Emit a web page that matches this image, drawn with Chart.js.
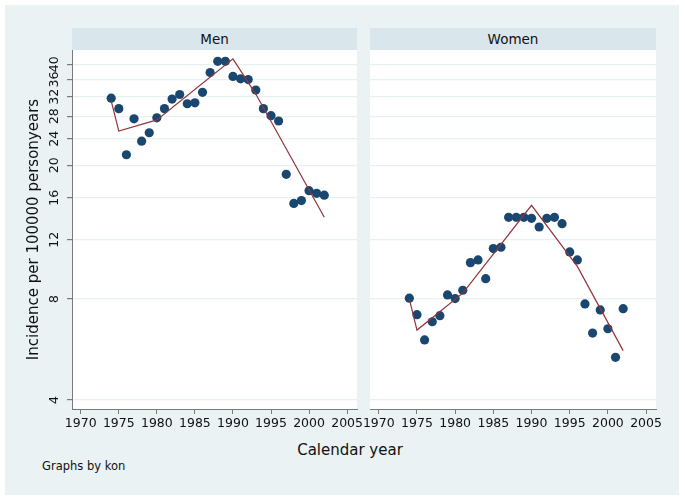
<!DOCTYPE html>
<html>
<head>
<meta charset="utf-8">
<script src="https://cdn.jsdelivr.net/npm/chart.js@4.4.1/dist/chart.umd.min.js"></script>
<style>
  body { margin: 0; background: #fff; }
  #wrap { position: relative; width: 685px; height: 500px; background: #fff; font-family: "DejaVu Sans", sans-serif; }
  #bg { position: absolute; left: 5px; top: 5px; width: 674px; height: 490px; background: #EAF2F3; }
  .strip { position: absolute; top: 28px; height: 22px; line-height: 22px; background: #D9E6EB; text-align: center; font-size: 13.5px; color: #111; }
  canvas { position: absolute; top: 0; }
  #xtitle { position: absolute; left: 0; width: 700px; top: 441px; line-height: 18px; text-align: center; font-size: 15px; color: #111; }
  #note { position: absolute; left: 42px; top: 459px; font-size: 11.5px; color: #111; }
</style>
</head>
<body>
<div id="wrap">
  <div id="bg"></div>
  <div class="strip" style="left:72px;width:285px">Men</div>
  <div class="strip" style="left:370px;width:286px">Women</div>
  <canvas id="men" width="370" height="440" style="left:0"></canvas>
  <canvas id="women" width="330" height="440" style="left:355px"></canvas>
  <div id="xtitle">Calendar year</div>
  <div id="note">Graphs by kon</div>
</div>
<script>
var years = [1974, 1975, 1976, 1977, 1978, 1979, 1980, 1981, 1982, 1983, 1984, 1985, 1986, 1987, 1988,
  1989, 1990, 1991, 1992, 1993, 1994, 1995, 1996, 1997, 1998, 1999, 2000, 2001, 2002];
var menRate = [31.7, 29.5, 21.5, 27.5, 23.6, 25.0, 27.7, 29.5, 31.5, 32.5, 30.5, 30.7, 33.0, 37.8, 40.8,
  40.8, 36.8, 36.2, 36.0, 33.5, 29.5, 28.1, 27.1, 18.8, 15.4, 15.7, 16.8, 16.5, 16.3];
var womenRate = [8.04, 7.18, 6.04, 6.84, 7.13, 8.22, 8.02, 8.49, 10.26, 10.45, 9.19, 11.3, 11.4, 14.0, 14.0,
  14.0, 13.9, 13.1, 13.9, 14.0, 13.4, 11.04, 10.45, 7.73, 6.33, 7.42, 6.52, 5.36, 7.48];

// fitted (joinpoint) lines
var menFitYears = [1974, 1975, 1980, 1990, 1993, 2002];
var menFit = [31.1, 25.3, 27.3, 41.5, 32.6, 14.0];
var womenFitYears = [1974, 1975, 1981, 1990, 1996, 2002];
var womenFit = [8.0, 6.46, 8.32, 15.2, 10.0, 5.61];

var yTicks = [4, 8, 12, 16, 20, 24, 28, 32, 36, 40];
var xTicks = [1970, 1975, 1980, 1985, 1990, 1995, 2000, 2005];

Chart.defaults.font.family = '"DejaVu Sans", sans-serif';
Chart.defaults.color = '#111';

function pairs(xs, ys) {
  return xs.map(function(x, i) { return { x: x, y: ys[i] }; });
}

var plotBg = {
  id: 'plotBg',
  beforeDraw: function(chart) {
    var a = chart.chartArea, ctx = chart.ctx;
    ctx.save();
    ctx.fillStyle = '#ffffff';
    ctx.fillRect(a.left, a.top, a.right - a.left, a.bottom - a.top);
    ctx.restore();
  }
};

// rotated y tick labels, like the Stata original
var yLabels = {
  id: 'yLabels',
  afterDraw: function(chart) {
    var scale = chart.scales.y, ctx = chart.ctx;
    ctx.save();
    ctx.fillStyle = '#111';
    ctx.font = '12.5px "DejaVu Sans"';
    ctx.textAlign = 'center';
    ctx.textBaseline = 'middle';
    yTicks.forEach(function(v) {
      ctx.save();
      ctx.translate(55, scale.getPixelForValue(v));
      ctx.rotate(-Math.PI / 2);
      ctx.fillText(String(v), 0, 0);
      ctx.restore();
    });
    ctx.restore();
  }
};

function makePanel(id, rates, fitYears, fit, isLeft) {
  var ctx = document.getElementById(id).getContext('2d');
  return new Chart(ctx, {
    type: 'scatter',
    data: {
      datasets: [{
        data: pairs(fitYears, fit),
        showLine: true,
        borderColor: '#90353B',
        borderWidth: 1.2,
        pointRadius: 0,
        order: 0
      }, {
        data: pairs(years, rates),
        backgroundColor: '#1A476F',
        borderColor: '#1A476F',
        pointRadius: 4.6,
        borderWidth: 0,
        order: 1
      }]
    },
    options: {
      responsive: false,
      animation: false,
      layout: { padding: { top: 50, right: isLeft ? 13 : 29, left: 0, bottom: 0 } },
      plugins: { legend: { display: false }, tooltip: { enabled: false } },
      scales: {
        x: {
          type: 'linear',
          min: 1968.85,
          max: 2006.3,
          afterBuildTicks: function(scale) {
            scale.ticks = xTicks.map(function(v) { return { value: v }; });
          },
          afterFit: function(scale) { scale.height = 31; },
          ticks: {
            autoSkip: false,
            maxRotation: 0,
            padding: 2,
            font: { size: 12.5 },
            callback: function(v) { return String(v); }
          },
          grid: { drawOnChartArea: false, drawTicks: true, tickLength: 5, tickColor: '#7a7a7a' },
          border: { display: true, color: '#7a7a7a', width: 1 }
        },
        y: {
          type: 'logarithmic',
          min: 3.76,
          max: 44.1,
          afterBuildTicks: function(scale) {
            scale.ticks = yTicks.map(function(v) { return { value: v }; });
          },
          afterFit: function(scale) { scale.width = isLeft ? 72 : 15; },
          ticks: { display: false },
          title: {
            display: isLeft,
            text: 'Incidence per 100000 personyears',
            font: { size: 15 },
            padding: { top: 25, bottom: 0 }
          },
          grid: {
            color: '#E8F0F2',
            lineWidth: 1.2,
            drawTicks: isLeft,
            tickLength: 5,
            tickColor: '#7a7a7a'
          },
          border: { display: isLeft, color: '#7a7a7a', width: 1 }
        }
      }
    },
    plugins: isLeft ? [plotBg, yLabels] : [plotBg]
  });
}

makePanel('men', menRate, menFitYears, menFit, true);
makePanel('women', womenRate, womenFitYears, womenFit, false);
</script>
</body>
</html>
